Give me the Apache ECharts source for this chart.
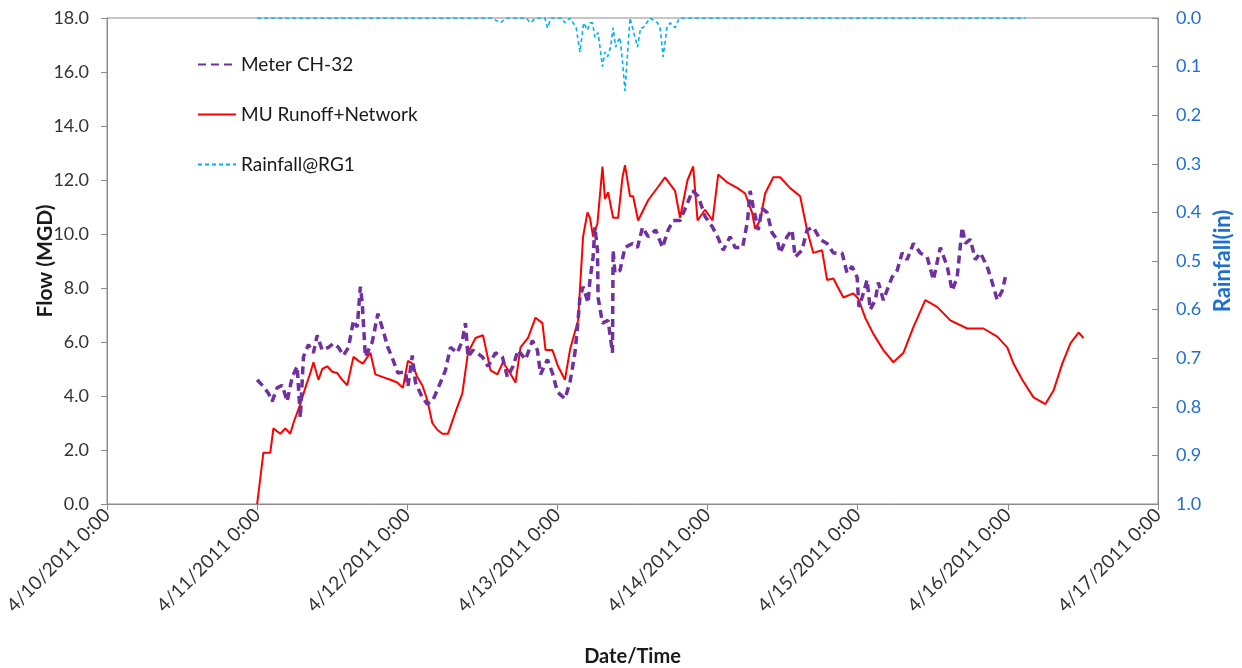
<!DOCTYPE html>
<html>
<head>
<meta charset="utf-8">
<script src="https://cdn.jsdelivr.net/npm/echarts@6/dist/echarts.min.js"></script>
<style>
	html, body { margin: 0; padding: 0; background: #fff; }
	#chart { width: 1242px; height: 668px; }
</style>
</head>
<body>
<div id="chart"></div>
<script>
// hours after 4/11/2011 0:00, values in MGD / inches
var meterHours = [0.0,1.0,1.8,2.4,3.2,4.0,4.8,5.6,6.4,6.9,7.4,8.2,9.0,9.6,10.4,11.4,12.2,13.0,13.8,14.6,15.4,16.0,16.5,16.8,17.3,18.4,19.3,20.1,20.9,21.7,22.5,23.7,24.1,24.8,25.3,26.4,27.2,28.1,29.3,30.1,30.9,32.0,32.8,33.3,33.7,34.5,36.0,36.9,38.1,39.2,40.0,40.9,41.7,42.9,44.0,44.8,45.3,46.4,47.2,48.0,49.2,50.0,50.8,51.2,51.6,52.1,52.9,53.2,53.7,54.0,54.4,54.5,55.2,56.1,56.8,56.9,57.2,58.0,58.8,60.0,60.8,61.6,62.5,63.7,64.8,65.7,66.5,67.6,68.8,69.6,70.5,71.6,72.8,73.6,74.5,75.6,76.4,77.6,78.4,78.8,79.3,80.1,80.7,81.5,82.3,83.1,83.6,84.7,85.5,86.0,87.1,87.9,88.9,90.0,91.1,92.1,93.5,94.3,95.1,95.9,96.2,96.7,97.5,98.0,98.8,99.3,100.1,100.9,101.5,102.3,103.1,103.9,104.9,106.0,107.1,108.1,109.2,110.3,111.1,111.9,112.7,113.2,114.0,114.8,115.6,116.7,117.7,118.3,119.1,119.6];
var meterFlow = [4.6,4.35,4.1,3.8,4.3,4.4,3.8,4.7,5.1,3.2,5.45,5.9,5.6,6.25,5.7,5.8,5.95,5.8,5.5,5.8,6.8,6.55,8.05,7.45,5.45,6.0,7.05,6.45,5.8,5.35,4.85,4.9,4.35,5.5,4.5,3.95,3.7,3.85,4.5,4.95,5.8,5.6,6.05,6.7,5.45,5.7,5.45,5.1,5.6,5.45,4.7,5.1,5.7,5.35,6.05,5.7,4.8,5.35,4.85,4.15,3.9,4.5,5.6,6.55,7.65,8.05,7.45,8.3,9.15,10.25,9.4,7.65,6.7,6.8,5.6,9.4,8.55,8.65,9.5,9.65,9.5,10.25,9.9,10.15,9.5,10.15,10.5,10.5,11.15,11.6,11.4,10.65,10.25,9.9,9.4,9.9,9.5,9.5,10.5,11.6,11.0,10.15,10.95,10.8,10.05,9.8,9.3,9.9,10.15,9.15,9.4,10.15,10.25,9.8,9.65,9.3,9.3,8.55,8.8,8.4,7.3,7.65,8.3,7.2,7.55,8.2,7.55,8.05,8.4,8.65,9.3,9.05,9.65,9.3,9.15,8.3,9.5,8.8,7.9,8.4,10.25,9.65,9.8,9.05,9.3,8.8,8.05,7.55,7.9,8.4];

var modelHours = [0.0,1.0,2.1,2.6,3.7,4.5,5.3,5.8,6.9,7.7,8.5,9.0,9.8,10.4,11.2,12.0,12.8,13.6,14.4,15.4,16.2,16.9,18.1,18.9,20.1,21.3,22.4,23.3,24.1,24.8,25.6,26.4,27.2,28.0,28.8,29.6,30.5,31.7,32.8,33.7,34.9,36.1,36.8,37.3,38.4,39.3,40.3,41.3,42.1,43.3,44.5,45.6,46.1,47.2,48.1,49.2,50.0,51.3,52.1,52.8,53.2,53.7,54.4,55.2,55.6,56.1,56.9,57.7,58.4,58.8,59.6,60.1,60.9,62.5,64.1,65.2,66.8,67.6,68.8,69.7,70.4,71.6,72.8,73.7,75.2,76.8,78.0,79.1,79.6,80.4,81.2,82.5,83.6,85.2,86.8,87.9,88.9,90.3,91.1,92.1,93.7,95.3,96.1,97.2,98.5,100.1,101.7,103.3,104.9,106.8,108.7,110.8,113.5,116.1,118.3,119.9,120.9,122.3,124.1,126.0,127.3,128.7,130.0,131.3,132.1];
var modelFlow = [0.0,1.9,1.9,2.8,2.6,2.8,2.6,3.0,3.7,4.3,4.85,5.25,4.6,5.0,5.1,4.9,4.85,4.6,4.4,5.45,5.3,5.2,5.6,4.8,4.7,4.6,4.5,4.3,5.3,5.2,4.7,4.4,3.85,3.0,2.75,2.6,2.6,3.4,4.1,5.6,6.15,6.25,5.5,4.95,4.8,5.25,4.9,4.5,5.8,6.15,6.9,6.7,5.7,5.7,5.1,4.6,5.7,6.8,9.9,10.8,10.6,9.9,10.4,12.5,11.3,11.55,10.6,10.6,12.1,12.55,11.4,11.4,10.5,11.25,11.75,12.1,11.6,10.6,12.0,12.5,10.5,10.9,10.5,12.2,11.9,11.7,11.5,10.8,10.2,10.5,11.5,12.1,12.1,11.7,11.4,10.15,9.3,9.4,8.3,8.35,7.65,7.8,7.6,6.9,6.3,5.7,5.25,5.6,6.55,7.55,7.3,6.8,6.5,6.5,6.2,5.8,5.2,4.6,3.95,3.7,4.2,5.2,5.95,6.35,6.15];

var rainHours = [0.0,37.5,38.9,39.8,43.0,43.7,44.5,46.0,46.4,47.0,48.7,49.2,50.0,51.0,51.6,52.2,52.8,53.2,53.6,54.0,54.5,55.2,55.6,56.0,56.5,56.9,57.3,57.6,58.0,58.4,58.8,59.6,60.2,60.8,61.3,61.7,62.8,64.0,64.4,64.9,65.5,66.0,66.8,67.5,122.8];
var rainfall = [0,0,0.01,0,0,0.01,0,0,0.02,0,0,0.01,0,0.02,0.07,0.01,0.025,0.01,0.01,0.04,0.03,0.10,0.07,0.08,0.06,0.02,0.06,0.05,0.04,0.09,0.15,0,0.03,0.06,0.02,0.02,0,0.01,0.02,0.08,0.02,0.01,0.02,0,0];

var dayLabels = ['4/10/2011 0:00','4/11/2011 0:00','4/12/2011 0:00','4/13/2011 0:00','4/14/2011 0:00','4/15/2011 0:00','4/16/2011 0:00','4/17/2011 0:00'];

function pairs(hrs, vals) {
	var out = [];
	for (var i = 0; i < hrs.length; i++) {
		out.push([hrs[i] + 24, vals[i]]);
	}
	return out;
}

var font = 'Lato, "Open Sans", sans-serif';
var chart = echarts.init(document.getElementById('chart'));

var option = {
	animation: false,
	textStyle: { fontFamily: font },
	grid: {
		left: 107, right: 84, top: 18, bottom: 164,
		outerBoundsMode: 'none',
		show: true, borderColor: '#8c8c8c', borderWidth: 1
	},
	legend: {
		orient: 'vertical',
		left: 192, top: 50,
		itemWidth: 38, itemHeight: 14, itemGap: 31,
		itemStyle: { opacity: 0 },
		textStyle: { fontFamily: font, fontSize: 19, color: '#1a1a1a' },
		data: ['Meter CH-32', 'MU Runoff+Network', 'Rainfall@RG1']
	},
	xAxis: {
		type: 'value',
		min: 0, max: 168, interval: 24,
		name: 'Date/Time',
		nameLocation: 'middle',
		nameGap: 143,
		nameMoveOverlap: false,
		nameTextStyle: { fontFamily: font, fontSize: 20, fontWeight: 'bold', color: '#1a1a1a' },
		axisLine: { lineStyle: { color: '#8c8c8c' } },
		axisTick: { length: 6, lineStyle: { color: '#8c8c8c' } },
		splitLine: { show: false },
		axisLabel: {
			rotate: 45, fontSize: 19, color: '#333', margin: 8,
			formatter: function (v) { return dayLabels[Math.round(v / 24)]; }
		}
	},
	yAxis: [
		{
			type: 'value',
			min: 0, max: 18, interval: 2,
			name: 'Flow (MGD)',
			nameLocation: 'middle',
			nameGap: 51,
			nameMoveOverlap: false,
			nameTextStyle: { fontFamily: font, fontSize: 21, fontWeight: 'bold', color: '#1a1a1a' },
			axisLine: { show: true, lineStyle: { color: '#8c8c8c' } },
			axisTick: { show: true, length: 6, lineStyle: { color: '#8c8c8c' } },
			splitLine: { show: false },
			axisLabel: {
				fontSize: 18, color: '#333', margin: 18,
				formatter: function (v) { return v.toFixed(1); }
			}
		},
		{
			type: 'value',
			min: 0, max: 1, interval: 0.1,
			inverse: true,
			position: 'right',
			name: 'Rainfall(in)',
			nameLocation: 'middle',
			nameGap: 54,
			nameMoveOverlap: false,
			nameTextStyle: { fontFamily: font, fontSize: 22, fontWeight: 'bold', color: '#1f6fd0' },
			axisLine: { show: true, lineStyle: { color: '#8c8c8c' } },
			axisTick: { show: true, inside: true, length: 6, lineStyle: { color: '#8c8c8c' } },
			splitLine: { show: false },
			axisLabel: {
				fontSize: 18, color: '#1f6fd0', margin: 18,
				formatter: function (v) { return v.toFixed(1); }
			}
		}
	],
	series: [
		{
			name: 'Meter CH-32',
			type: 'line',
			yAxisIndex: 0,
			symbol: 'none',
			color: '#7030a0',
			lineStyle: { color: '#7030a0', width: 3.5, type: [8, 5] },
			data: pairs(meterHours, meterFlow),
			z: 3
		},
		{
			name: 'MU Runoff+Network',
			type: 'line',
			yAxisIndex: 0,
			symbol: 'none',
			color: '#ff0000',
			lineStyle: { color: '#ff0000', width: 2 },
			data: pairs(modelHours, modelFlow),
			z: 2
		},
		{
			name: 'Rainfall@RG1',
			type: 'line',
			yAxisIndex: 1,
			symbol: 'none',
			color: '#00b0f0',
			lineStyle: { color: '#00b0f0', width: 1.6, type: [4, 3] },
			data: pairs(rainHours, rainfall),
			z: 4
		}
	]
};

chart.setOption(option);
</script>
</body>
</html>
